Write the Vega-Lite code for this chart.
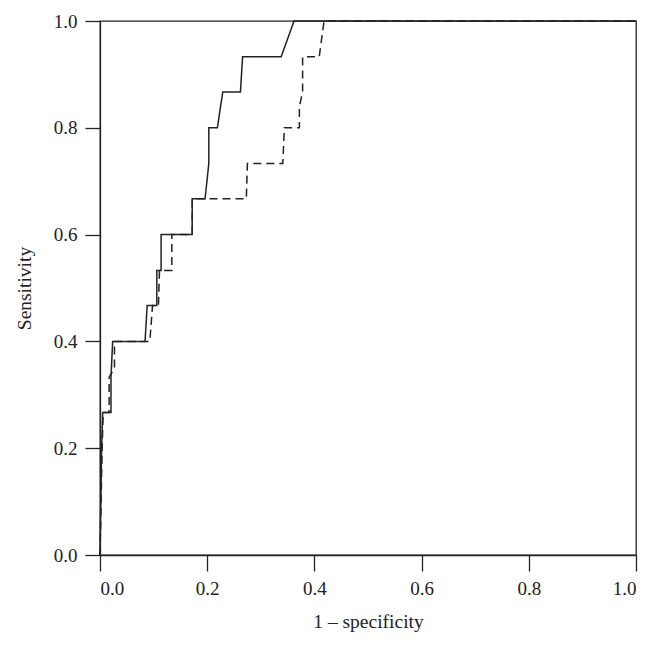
{
  "$schema": "https://vega.github.io/schema/vega-lite/v6.json",
  "width": 536,
  "height": 534,
  "autosize": "none",
  "padding": {"left": 100, "top": 21, "right": 25, "bottom": 92},
  "background": "white",
  "config": {
    "font": "Liberation Serif",
    "view": {"stroke": "#222", "strokeWidth": 1.3},
    "axis": {
      "domainColor": "#222", "tickColor": "#222", "domainWidth": 1.3, "tickWidth": 1.3,
      "labelFont": "Liberation Serif", "titleFont": "Liberation Serif",
      "labelFontSize": 19, "titleFontSize": 19.5, "labelColor": "#222", "titleColor": "#222",
      "titleFontWeight": "normal", "grid": false
    }
  },
  "data": {"values": [
    {"s": "A", "o": 1, "x": 0, "y": 0},
    {"s": "A", "o": 2, "x": 0.003, "y": 0.2},
    {"s": "A", "o": 3, "x": 0.005, "y": 0.267},
    {"s": "A", "o": 4, "x": 0.0205, "y": 0.267},
    {"s": "A", "o": 5, "x": 0.0205, "y": 0.333},
    {"s": "A", "o": 6, "x": 0.0236, "y": 0.4},
    {"s": "A", "o": 7, "x": 0.084, "y": 0.4},
    {"s": "A", "o": 8, "x": 0.088, "y": 0.467},
    {"s": "A", "o": 9, "x": 0.106, "y": 0.467},
    {"s": "A", "o": 10, "x": 0.106, "y": 0.533},
    {"s": "A", "o": 11, "x": 0.114, "y": 0.533},
    {"s": "A", "o": 12, "x": 0.114, "y": 0.6},
    {"s": "A", "o": 13, "x": 0.172, "y": 0.6},
    {"s": "A", "o": 14, "x": 0.172, "y": 0.667},
    {"s": "A", "o": 15, "x": 0.196, "y": 0.667},
    {"s": "A", "o": 16, "x": 0.203, "y": 0.733},
    {"s": "A", "o": 17, "x": 0.203, "y": 0.8},
    {"s": "A", "o": 18, "x": 0.219, "y": 0.8},
    {"s": "A", "o": 19, "x": 0.229, "y": 0.867},
    {"s": "A", "o": 20, "x": 0.262, "y": 0.867},
    {"s": "A", "o": 21, "x": 0.266, "y": 0.933},
    {"s": "A", "o": 22, "x": 0.338, "y": 0.933},
    {"s": "A", "o": 23, "x": 0.362, "y": 1.0},
    {"s": "A", "o": 24, "x": 1.0, "y": 1.0},
    {"s": "B", "o": 1, "x": 0, "y": 0},
    {"s": "B", "o": 2, "x": 0.004, "y": 0.2},
    {"s": "B", "o": 3, "x": 0.006, "y": 0.267},
    {"s": "B", "o": 4, "x": 0.017, "y": 0.267},
    {"s": "B", "o": 5, "x": 0.017, "y": 0.333},
    {"s": "B", "o": 6, "x": 0.027, "y": 0.35},
    {"s": "B", "o": 7, "x": 0.027, "y": 0.4},
    {"s": "B", "o": 8, "x": 0.093, "y": 0.4},
    {"s": "B", "o": 9, "x": 0.098, "y": 0.467},
    {"s": "B", "o": 10, "x": 0.109, "y": 0.467},
    {"s": "B", "o": 11, "x": 0.111, "y": 0.533},
    {"s": "B", "o": 12, "x": 0.134, "y": 0.533},
    {"s": "B", "o": 13, "x": 0.134, "y": 0.6},
    {"s": "B", "o": 14, "x": 0.172, "y": 0.6},
    {"s": "B", "o": 15, "x": 0.172, "y": 0.667},
    {"s": "B", "o": 16, "x": 0.273, "y": 0.667},
    {"s": "B", "o": 17, "x": 0.275, "y": 0.733},
    {"s": "B", "o": 18, "x": 0.341, "y": 0.733},
    {"s": "B", "o": 19, "x": 0.344, "y": 0.8},
    {"s": "B", "o": 20, "x": 0.372, "y": 0.8},
    {"s": "B", "o": 21, "x": 0.372, "y": 0.84},
    {"s": "B", "o": 22, "x": 0.378, "y": 0.867},
    {"s": "B", "o": 23, "x": 0.378, "y": 0.933},
    {"s": "B", "o": 24, "x": 0.409, "y": 0.933},
    {"s": "B", "o": 25, "x": 0.418, "y": 1.0},
    {"s": "B", "o": 26, "x": 1.0, "y": 1.0}
  ]},
  "mark": {"type": "line", "color": "#222", "strokeWidth": 1.5},
  "encoding": {
    "x": {"field": "x", "type": "quantitative", "scale": {"domain": [0, 1], "nice": false},
      "axis": {"title": "1 – specificity", "values": [0, 0.2, 0.4, 0.6, 0.8, 1.0], "format": ".1f", "tickSize": 16, "labelPadding": 8, "titlePadding": 14}},
    "y": {"field": "y", "type": "quantitative", "scale": {"domain": [0, 1], "nice": false},
      "axis": {"title": "Sensitivity", "values": [0, 0.2, 0.4, 0.6, 0.8, 1.0], "format": ".1f", "tickSize": 15, "labelPadding": 8, "titlePadding": 19}},
    "order": {"field": "o"},
    "detail": {"field": "s"},
    "strokeDash": {"field": "s", "type": "nominal", "legend": null,
      "scale": {"domain": ["A", "B"], "range": [[1, 0], [8, 5]]}}
  }
}
